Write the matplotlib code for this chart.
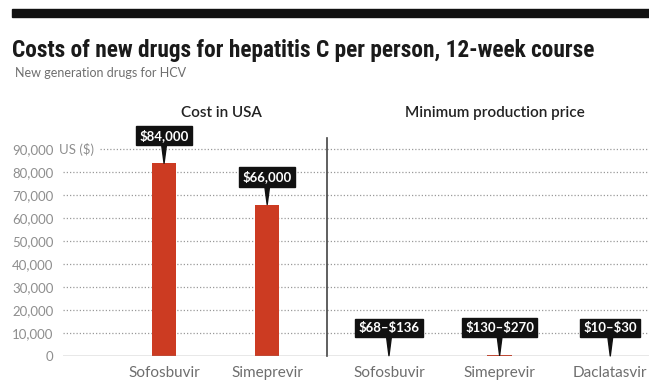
import matplotlib.pyplot as plt
from matplotlib import font_manager
from matplotlib.patches import Rectangle
from matplotlib.transforms import blended_transform_factory

# Data
us_drugs = ['Sofosbuvir', 'Simeprevir']
us_cost = [84000, 66000]
us_labels = ['\\$84,000', '\\$66,000']

min_drugs = ['Sofosbuvir', 'Simeprevir', 'Daclatasvir']
min_low = [68, 130, 10]
min_high = [136, 270, 30]
min_labels = ['\\$68\u2013\\$136', '\\$130\u2013\\$270', '\\$10\u2013\\$30']

y_ticks = [0, 10000, 20000, 30000, 40000, 50000, 60000, 70000, 80000, 90000]
y_tick_labels = ['0', '10,000', '20,000', '30,000', '40,000', '50,000',
                 '60,000', '70,000', '80,000', '90,000']

# Style
W, H = 649, 383
BAR_COLOR = '#cc3b22'
GRID_COLOR = '#9a9a9a'
TEXT_GRAY = '#6e6e6e'
TICK_GRAY = '#8e8e8e'
BODY_FONT = ['Lato', 'DejaVu Sans']

# pick a narrow face for the headline if one is installed
installed = {f.name for f in font_manager.fontManager.ttflist}
title_font = 'Roboto'
for name in ['Roboto Condensed', 'Liberation Sans Narrow', 'DejaVu Sans Condensed', 'Open Sans Condensed']:
    if name in installed:
        title_font = name
        break


def px(x, y):
    # pixel position -> figure fraction
    return x / W, 1 - y / H


fig = plt.figure(figsize=(W / 100, H / 100), dpi=100)
fig.patch.set_facecolor('white')

# Thick black rule on top
fig.patches.append(Rectangle(px(12, 17), (W - 12) / W, 8 / H,
                             transform=fig.transFigure, color='#111111'))

title = fig.text(*px(12, 50), 'Costs of new drugs for hepatitis C per person, 12-week course',
                 family=[title_font, 'DejaVu Sans'], weight='bold', size=15,
                 color='#1a1a1a', va='center')
# scale the headline to the width it has in the source
renderer = fig.canvas.get_renderer()
w = title.get_window_extent(renderer).width
title.set_fontsize(15 * 585 / w)

fig.text(*px(15, 73), 'New generation drugs for HCV', family=BODY_FONT,
         size=9, color=TEXT_GRAY, va='center')

fig.text(*px(221, 113), 'Cost in USA', family=BODY_FONT, size=11,
         color='#222222', ha='center', va='center', weight='semibold')
fig.text(*px(495, 113), 'Minimum production price', family=BODY_FONT, size=11,
         color='#222222', ha='center', va='center', weight='semibold')

# Axes layout (pixels)
ax_top, ax_bot = 138, 356
left_x0, split_x, right_x1 = 63, 327, 649
ymax = 95000

ax1 = fig.add_axes([left_x0 / W, 1 - ax_bot / H, (split_x - left_x0) / W, (ax_bot - ax_top) / H])
ax2 = fig.add_axes([split_x / W, 1 - ax_bot / H, (right_x1 - split_x) / W, (ax_bot - ax_top) / H],
                   sharey=ax1)

ax1.set_xlim(-0.98, 1.58)
ax2.set_xlim(-0.56, 2.35)
ax1.set_ylim(0, ymax)

for ax in (ax1, ax2):
    for s in ax.spines.values():
        s.set_visible(False)
    ax.set_facecolor('none')
    ax.axhline(0, color='#8a8a8a', lw=1.0, zorder=3)
    ax.tick_params(axis='x', length=0, pad=7, labelsize=11, labelcolor=TEXT_GRAY)

# Dotted gridlines
for y in y_ticks[1:]:
    xmin = 0.14 if y == y_ticks[-1] else 0.0
    ax1.axhline(y, xmin=xmin, color=GRID_COLOR, lw=0.9, ls=(0, (1, 1.6)), zorder=1)
    ax2.axhline(y, color=GRID_COLOR, lw=0.9, ls=(0, (1, 1.6)), zorder=1)

# Divider between the two panels
ax2.spines['left'].set_visible(True)
ax2.spines['left'].set_color('#444444')
ax2.spines['left'].set_linewidth(1.2)

# Y ticks
ax1.set_yticks(y_ticks)
ax1.set_yticklabels(y_tick_labels, family=BODY_FONT)
ax1.tick_params(axis='y', length=0, pad=7, labelsize=9.5, labelcolor=TICK_GRAY)
ax2.tick_params(axis='y', left=False, labelleft=False)
trans = blended_transform_factory(ax1.transAxes, ax1.transData)
ax1.text(-0.015, y_ticks[-1], 'US (\\$)', transform=trans, family=BODY_FONT,
         size=9.5, color=TICK_GRAY, va='center', ha='left')

# Bars
x_us = list(range(len(us_drugs)))
ax1.bar(x_us, us_cost, width=0.23, color=BAR_COLOR, zorder=2)
ax1.set_xticks(x_us)
ax1.set_xticklabels(us_drugs, family=BODY_FONT)

x_min = list(range(len(min_drugs)))
ax2.bar(x_min, min_high, width=0.23, color=BAR_COLOR, zorder=2)
ax2.set_xticks(x_min)
ax2.set_xticklabels(min_drugs, family=BODY_FONT)


def callout(ax, x, y, text):
    ax.annotate(text, xy=(x, y), xytext=(0, 20), textcoords='offset points',
                ha='center', va='center', color='white', weight='bold', size=9.5,
                family=BODY_FONT, annotation_clip=False, zorder=5,
                bbox=dict(boxstyle='square,pad=0.25', fc='#111111', ec='#111111'),
                arrowprops=dict(arrowstyle='wedge,tail_width=0.35', color='#111111',
                                shrinkA=0, shrinkB=0))


for x, v, t in zip(x_us, us_cost, us_labels):
    callout(ax1, x, v, t)
for x, v, t in zip(x_min, min_high, min_labels):
    callout(ax2, x, v, t)

plt.savefig('out.png', dpi=100)
